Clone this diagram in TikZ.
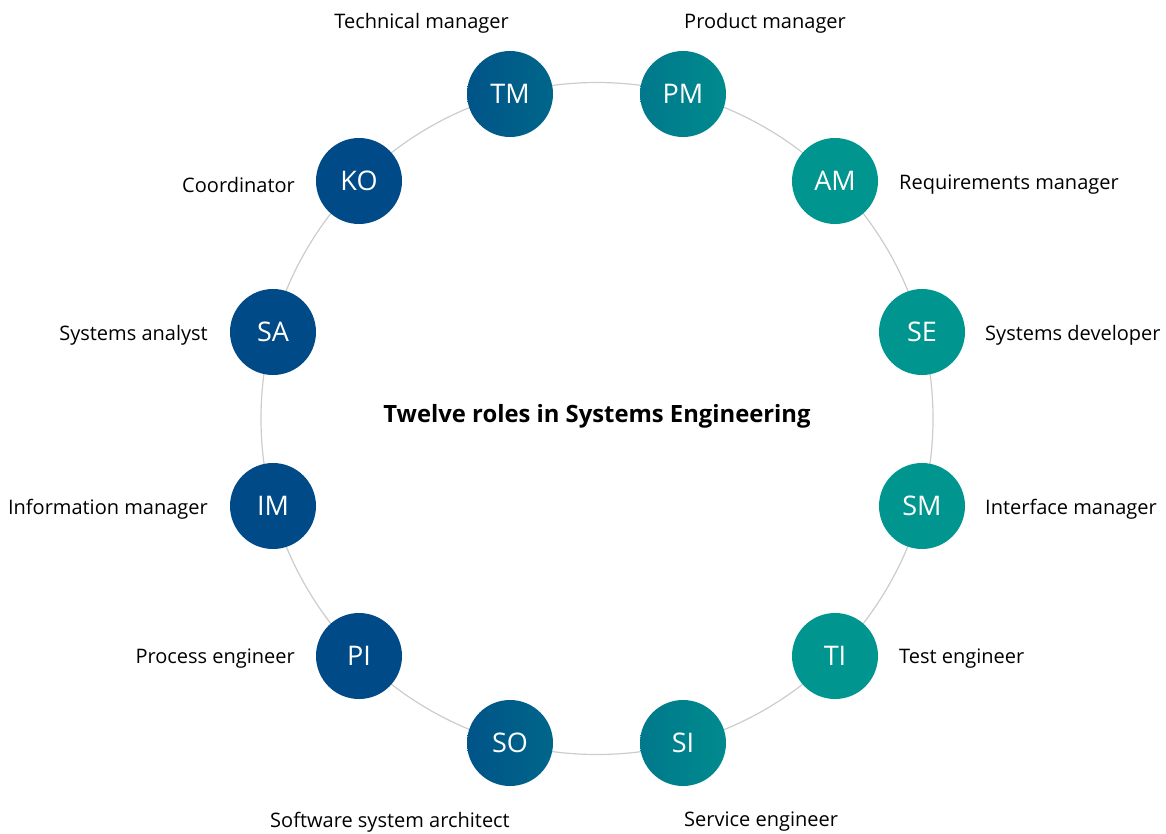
\documentclass[tikz,border=0pt]{standalone}
\usepackage{fontspec}
\setmainfont{Open Sans}
\definecolor{rblue}{HTML}{004A87}
\definecolor{rteal}{HTML}{00968F}
\definecolor{ringgray}{HTML}{CCCCCC}
\begin{document}
\begin{tikzpicture}[x=1pt,y=-1pt,
  role/.style={circle, minimum size=86pt, inner sep=0pt, text=white, font=\fontsize{27}{27}\selectfont},
  lbl/.style={text=black, inner sep=0pt, font=\fontsize{20}{22}\selectfont},
  ring/.style={draw=ringgray, line width=1.2pt}]
\useasboundingbox (0,0) rectangle (1166,833);
\coordinate (c) at (597,418.5);
\draw[ring] (c) circle[radius=336];
% nodes
\node[role, left color=rblue!87!rteal, right color=rblue!63!rteal] (TM) at (510,94) {TM};
\node[role, left color=rblue!39!rteal, right color=rblue!15!rteal] (PM) at (683,94) {PM};
\node[role, fill=rteal] (AM) at (835,181) {AM};
\node[role, fill=rteal] (SE) at (922,332) {SE};
\node[role, fill=rteal] (SM) at (922,506) {SM};
\node[role, fill=rteal] (TI) at (835,656) {TI};
\node[role, left color=rblue!39!rteal, right color=rblue!15!rteal] (SI) at (683,743) {SI};
\node[role, left color=rblue!87!rteal, right color=rblue!63!rteal] (SO) at (510,743) {SO};
\node[role, fill=rblue] (PI) at (359,656) {PI};
\node[role, fill=rblue] (IM) at (273,506) {IM};
\node[role, fill=rblue] (SA) at (273,332) {SA};
\node[role, fill=rblue] (KO) at (359,181) {KO};
% labels
\node[lbl, anchor=east] (lTM) at (509,23) {Technical manager};
\node[lbl, anchor=west] (lPM) at (684,23) {Product manager};
\node[lbl, anchor=west] (lAM) at (899,185) {Requirements manager};
\node[lbl, anchor=west] (lSE) at (985,335) {Systems developer};
\node[lbl, anchor=west] (lSM) at (985,509) {Interface manager};
\node[lbl, anchor=west] (lTI) at (899,659) {Test engineer};
\node[lbl, anchor=west] (lSI) at (684,822) {Service engineer};
\node[lbl, anchor=east] (lSO) at (510,822) {Software system architect};
\node[lbl, anchor=east] (lPI) at (295,659) {Process engineer};
\node[lbl, anchor=east] (lIM) at (208,509) {Information manager};
\node[lbl, anchor=east] (lSA) at (208,335) {Systems analyst};
\node[lbl, anchor=east] (lKO) at (295,185) {Coordinator};
% title
\node[text=black, font=\fontsize{23.8}{26}\selectfont\bfseries] (title) at (597,416) {Twelve roles in Systems Engineering};
\end{tikzpicture}
\end{document}
